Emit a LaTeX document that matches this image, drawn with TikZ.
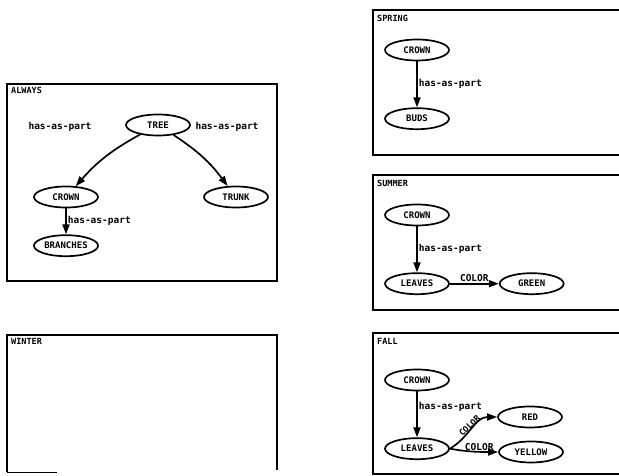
\documentclass[tikz,border=0pt]{standalone}
\usepackage{fontspec}
\setmonofont{DejaVu Sans Mono}
\usetikzlibrary{positioning, shapes.geometric, arrows.meta}

\begin{document}
\begin{tikzpicture}[
        x=1pt, y=1pt,
        frame/.style={line width=1.7pt},
        title/.style={anchor=north west, inner sep=0pt, font=\ttfamily\bfseries\fontsize{8.5}{9}\selectfont},
        concept/.style={draw, ellipse, line width=1.7pt, minimum width=64pt, minimum height=21pt, inner sep=1pt, font=\ttfamily\bfseries\fontsize{9}{10}\selectfont},
        rel/.style={inner sep=1pt, font=\ttfamily\bfseries\fontsize{9.5}{11}\selectfont},
        arrow/.style={-{Triangle[length=10pt,width=7pt]}, line width=1.7pt}
    ]
    \useasboundingbox (0,0) rectangle (619,476);

    % always
    \draw[frame] (7,195) rectangle (277,392);
    \node[title] (always) at (11,389) {ALWAYS};
    \node[concept] (tree) at (158,351) {TREE};
    \node[concept] (crownA) at (66,279) {CROWN};
    \node[concept] (trunk) at (236,279) {TRUNK};
    \node[concept, below=26pt of crownA] (branches) {BRANCHES};
    \node[rel] (partA) at (60,349) {has-as-part};
    \node[rel] (partB) at (227,349) {has-as-part};

    \draw[arrow] (tree) to[bend right=10] (crownA);
    \draw[arrow] (tree) to[bend left=10] (trunk);
    \draw[arrow] (crownA) -- node[rel, right] (partC) {has-as-part} (branches);

    % winter
    \draw[frame] (7,4) -- (7,141) -- (277,141) -- (277,6);
    \draw[thin] (7,4) -- ++(50,0);
    \node[title] (winter) at (11,138) {WINTER};

    % spring
    \draw[frame] (619,466) -- (373,466) -- (373,321) -- (619,321);
    \node[title] (spring) at (377,461) {SPRING};
    \node[concept] (crownS) at (417,426) {CROWN};
    \node[concept, below=46pt of crownS] (buds) {BUDS};
    \draw[arrow] (crownS) -- node[rel, right] (partS) {has-as-part} (buds);

    % summer
    \draw[frame] (619,301) -- (373,301) -- (373,166) -- (619,166);
    \node[title] (summer) at (377,296) {SUMMER};
    \node[concept] (crownU) at (417,261) {CROWN};
    \node[concept, below=46pt of crownU] (leavesU) {LEAVES};
    \node[concept, right=49pt of leavesU] (green) {GREEN};
    \draw[arrow] (crownU) -- node[rel, right] (partU) {has-as-part} (leavesU);
    \draw[arrow] (leavesU) -- node[rel, above] (colorU) {COLOR} (green);

    % fall
    \draw[frame] (619,143) -- (373,143) -- (373,2) -- (619,2);
    \node[title] (fall) at (377,138) {FALL};
    \node[concept] (crownF) at (417,96) {CROWN};
    \node[concept, below=46pt of crownF] (leavesF) {LEAVES};
    \node[concept] (red) at (530,59) {RED};
    \node[concept] (yellow) at (531,24) {YELLOW};
    \draw[arrow] (crownF) -- node[rel, right, yshift=7pt] (partF) {has-as-part} (leavesF);
    \draw[arrow] (leavesF.east) to[out=30, in=180] node[rel, above, sloped, pos=.5, inner sep=0pt, font=\ttfamily\bfseries\fontsize{8.5}{10}\selectfont] (colorR) {COLOR} (red.west);
    \draw[arrow] (leavesF.east) to[out=-10, in=180] node[rel, above, pos=.62, inner sep=0pt] (colorY) {COLOR} (yellow.west);
\end{tikzpicture}
\end{document}
